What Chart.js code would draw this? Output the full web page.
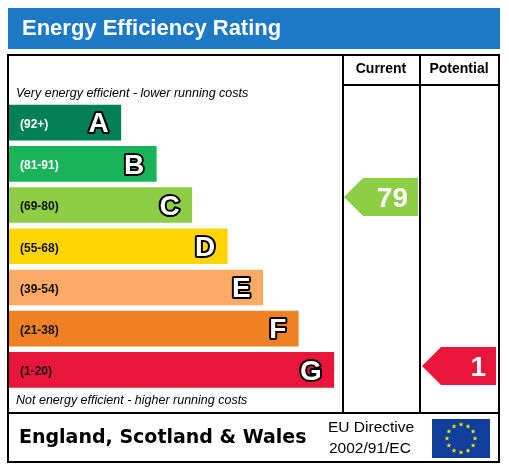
<!DOCTYPE html>
<html>
<head>
<meta charset="utf-8">
<script src="https://cdn.jsdelivr.net/npm/chart.js@4/dist/chart.umd.min.js"></script>
<style>
  html, body { margin: 0; padding: 0; background: #fff; }
  canvas { display: block; }
</style>
</head>
<body>
<canvas id="epc" width="509" height="467"></canvas>
<script>
const bands = ['A', 'B', 'C', 'D', 'E', 'F', 'G'];
const ranges = ['(92+)', '(81-91)', '(69-80)', '(55-68)', '(39-54)', '(21-38)', '(1-20)'];
const barLength = [1, 2, 3, 4, 5, 6, 7];
const colors = ['#008054', '#19b459', '#8dce46', '#ffd500', '#fcaa65', '#ef8023', '#e9153b'];
const currentRating = 79;
const potentialRating = 1;

const BASE = -2.15;

function bandColor(score) {
    if (score >= 92) return colors[0];
    if (score >= 81) return colors[1];
    if (score >= 69) return colors[2];
    if (score >= 55) return colors[3];
    if (score >= 39) return colors[4];
    if (score >= 21) return colors[5];
    return colors[6];
}

function outlinedText(ctx, txt, x, y) {
    ctx.lineWidth = 4;
    ctx.strokeStyle = '#000';
    ctx.lineJoin = 'round';
    ctx.strokeText(txt, x, y);
    ctx.fillStyle = '#fff';
    ctx.fillText(txt, x, y);
}

const frame = {
    id: 'frame',
    beforeDraw(chart) {
        const ctx = chart.ctx;
        ctx.save();
        // header
        ctx.fillStyle = '#1d79c5';
        ctx.fillRect(8, 8, 492, 41);
        ctx.fillStyle = '#fff';
        ctx.font = 'bold 22px "Liberation Sans", Arial, sans-serif';
        ctx.textBaseline = 'middle';
        ctx.fillText('Energy Efficiency Rating', 22, 29);
        // table
        ctx.strokeStyle = '#000';
        ctx.lineWidth = 2;
        ctx.strokeRect(8, 55, 491, 407);
        ctx.beginPath();
        ctx.moveTo(343, 55); ctx.lineTo(343, 413);
        ctx.moveTo(420, 55); ctx.lineTo(420, 413);
        ctx.moveTo(343, 85); ctx.lineTo(499, 85);
        ctx.moveTo(8, 413); ctx.lineTo(499, 413);
        ctx.stroke();
        ctx.fillStyle = '#000';
        ctx.font = 'bold 14px "Liberation Sans", Arial, sans-serif';
        ctx.textAlign = 'center';
        ctx.fillText('Current', 381, 69);
        ctx.fillText('Potential', 459, 69);
        ctx.textAlign = 'left';
        ctx.font = 'italic 12.5px "Liberation Sans", Arial, sans-serif';
        ctx.fillText('Very energy efficient - lower running costs', 16, 94);
        ctx.fillText('Not energy efficient - higher running costs', 16, 401);
        // footer
        ctx.font = 'bold 19px "DejaVu Sans", Verdana, sans-serif';
        ctx.fillText('England, Scotland & Wales', 19, 438);
        ctx.font = '15.5px "Liberation Sans", Arial, sans-serif';
        ctx.fillText('EU Directive', 328, 428);
        ctx.fillText('2002/91/EC', 329, 449);
        // EU flag
        ctx.fillStyle = '#0e3f9c';
        ctx.fillRect(432, 419, 58, 39);
        ctx.fillStyle = '#ffde00';
        for (let i = 0; i < 12; i++) {
            const a = i * Math.PI / 6;
            const sx = 461 + 14 * Math.sin(a), sy = 438.5 - 14 * Math.cos(a);
            ctx.beginPath();
            for (let k = 0; k < 10; k++) {
                const r = k % 2 ? 1.1 : 2.6;
                const b = k * Math.PI / 5;
                ctx.lineTo(sx + r * Math.sin(b), sy - r * Math.cos(b));
            }
            ctx.closePath();
            ctx.fill();
        }
        ctx.restore();
    },
    afterDatasetsDraw(chart) {
        const ctx = chart.ctx;
        const xs = chart.scales.x;
        const yb = chart.scales.y;
        ctx.save();
        ctx.textBaseline = 'middle';
        bands.forEach((band, i) => {
            const cy = yb.getPixelForValue(i);
            const right = xs.getPixelForValue(barLength[i]);
            ctx.font = 'bold 12px "Liberation Sans", Arial, sans-serif';
            ctx.textAlign = 'left';
            ctx.fillStyle = (i >= 2) ? '#111' : '#fff';
            ctx.fillText(ranges[i], 20, cy + 2);
            ctx.font = 'bold 28px "Liberation Sans", Arial, sans-serif';
            ctx.textAlign = 'right';
            outlinedText(ctx, band, right - 12, cy + 2);
        });
        // rating arrows
        const ys = chart.scales.score;
        const drawArrow = (score, left, right) => {
            const cy = ys.getPixelForValue(score);
            const h = 38;
            ctx.fillStyle = bandColor(score);
            ctx.beginPath();
            ctx.moveTo(left, cy);
            ctx.lineTo(left + 19, cy - h / 2);
            ctx.lineTo(right, cy - h / 2);
            ctx.lineTo(right, cy + h / 2);
            ctx.lineTo(left + 19, cy + h / 2);
            ctx.closePath();
            ctx.fill();
            ctx.fillStyle = '#fff';
            ctx.font = 'bold 28px "Liberation Sans", Arial, sans-serif';
            ctx.textAlign = 'right';
            ctx.fillText(String(score), right - 10, cy + 2);
        };
        drawArrow(currentRating, 344, 418);
        drawArrow(potentialRating, 422, 496);
        ctx.restore();
    }
};

new Chart(document.getElementById('epc'), {
    type: 'bar',
    data: {
        labels: bands,
        datasets: [{
            data: barLength.map(v => [BASE, v]),
            backgroundColor: colors,
            borderWidth: 0,
            borderSkipped: false,
            barThickness: 35
        }]
    },
    options: {
        indexAxis: 'y',
        responsive: false,
        animation: false,
        events: [],
        layout: { padding: { left: 9, right: 166, top: 102, bottom: 76.5 } },
        scales: {
            x: { min: BASE, max: 7.26, display: false },
            y: { display: false },
            score: { type: 'linear', position: 'right', min: -0.77, max: 113.4, display: false }
        },
        plugins: { legend: { display: false }, tooltip: { enabled: false } }
    },
    plugins: [frame]
});
</script>
</body>
</html>
